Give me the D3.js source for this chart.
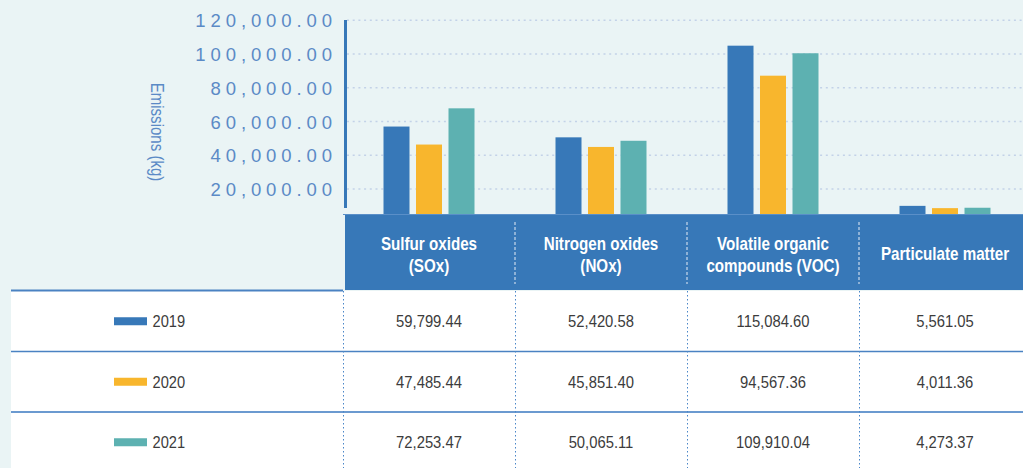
<!DOCTYPE html>
<html>
<head>
<meta charset="utf-8">
<script src="https://cdn.jsdelivr.net/npm/d3@7"></script>
<style>
    html, body { margin: 0; padding: 0; background: #eaf4f5; }
    svg { display: block; font-family: "Liberation Sans", Arial, sans-serif; }
</style>
</head>
<body>
<div id="chart"></div>
<script>
// emissions table-chart

// categories (header lines), years, values per year, axis ticks
const CATEGORIES = ['SOx', 'NOx', 'VOC', 'PM'];
const CATEGORY_LINES = [
    ['Sulfur oxides', '(SOx)'],
    ['Nitrogen oxides', '(NOx)'],
    ['Volatile organic', 'compounds (VOC)'],
    ['Particulate matter']
];
const YEARS = ['2019', '2020', '2021'];
const VALUES_2019 = [59799.44, 52420.58, 115084.60, 5561.05];
const VALUES_2020 = [47485.44, 45851.40, 94567.36, 4011.36];
const VALUES_2021 = [72253.47, 50065.11, 109910.04, 4273.37];
const Y_TICKS = [20000, 40000, 60000, 80000, 100000, 120000];
const AXIS_TITLE = 'Emissions (kg)';

(function () {
    'use strict';

    const W = 1023, H = 468;
    const COLORS = { '2019': '#3778b8', '2020': '#f8b62d', '2021': '#5db1b1' };
    const BLUE = '#3778b8';

    const cfg = {
        tableLeft: 343,
        tableRight: 1031,
        rowLeft: 11,
        plotTop: 20,
        plotBottom: 214,
        headerBottom: 290,
        rowHeight: 60.5
    };

    const series = YEARS.map(function (y, i) {
        return { year: y, values: [VALUES_2019, VALUES_2020, VALUES_2021][i] };
    });

    const fmt = d3.format(',.2f');

    // source font is a narrow sans; squeeze Liberation Sans to match
    function condense(sel, factor) {
        sel.each(function () {
            const len = this.getComputedTextLength();
            d3.select(this)
                .attr('textLength', len * factor)
                .attr('lengthAdjust', 'spacingAndGlyphs');
        });
    }

    const svg = d3.select('#chart').append('svg')
        .attr('width', W).attr('height', H);

    svg.append('rect').attr('width', W).attr('height', H).attr('fill', '#eaf4f5');

    // x: one column per category, shared by bars and table
    const x = d3.scaleBand().domain(CATEGORIES).range([cfg.tableLeft, cfg.tableRight]);
    const xInner = d3.scaleBand().domain(YEARS).range([-45.5, 45.5]).paddingInner(0.2);

    // the axis labels and the bars in the source don't share a scale, keep both
    const yAxis = d3.scaleLinear().domain([0, 120000]).range([222.75, 20.25]);
    const yBar = d3.scaleLinear().domain([0, 120000]).range([cfg.plotBottom, 38.5]);

    // gridlines
    svg.append('g').selectAll('line')
        .data(Y_TICKS).enter().append('line')
        .attr('x1', 347).attr('x2', W)
        .attr('y1', function (d) { return yAxis(d); })
        .attr('y2', function (d) { return yAxis(d); })
        .attr('stroke', '#c3d2e8').attr('stroke-width', 1.5)
        .attr('stroke-dasharray', '2,3.7');

    // tick labels (spaced out)
    const axisG = svg.append('g')
        .attr('transform', 'translate(332,0)')
        .call(d3.axisLeft(yAxis).tickValues(Y_TICKS).tickFormat(fmt).tickSize(0).tickPadding(0));
    axisG.select('.domain').remove();
    axisG.selectAll('text')
        .attr('fill', '#5b8ac6')
        .attr('dy', '0.36em')
        .style('font-size', '18.5px')
        .style('font-family', '"Liberation Sans", Arial, sans-serif')
        .each(function (d) {
            const len = this.getComputedTextLength();
            const n = fmt(d).length;
            d3.select(this)
                .attr('textLength', len + (n - 1) * 4.9)
                .attr('lengthAdjust', 'spacing');
        });

    // axis title
    svg.append('text')
        .attr('transform', 'translate(151,132) rotate(90)')
        .attr('text-anchor', 'middle')
        .attr('fill', '#5b8ac6')
        .style('font-size', '17.5px')
        .text(AXIS_TITLE)
        .call(condense, 0.86);

    // axis line
    svg.append('line')
        .attr('x1', 345.5).attr('x2', 345.5)
        .attr('y1', cfg.plotTop).attr('y2', 208)
        .attr('stroke', BLUE).attr('stroke-width', 3);

    // bars
    const groups = svg.append('g').selectAll('g')
        .data(series).enter().append('g')
        .attr('fill', function (d) { return COLORS[d.year]; });
    groups.selectAll('rect')
        .data(function (s) {
            return s.values.map(function (v, i) { return { year: s.year, cat: CATEGORIES[i], value: v }; });
        })
        .enter().append('rect')
        .attr('x', function (d) { return x(d.cat) + x.bandwidth() / 2 + xInner(d.year); })
        .attr('width', xInner.bandwidth())
        .attr('y', function (d) { return yBar(d.value); })
        .attr('height', function (d) { return yBar(0) - yBar(d.value); });

    // header band
    svg.append('rect')
        .attr('x', cfg.tableLeft + 2).attr('y', cfg.plotBottom)
        .attr('width', W - cfg.tableLeft).attr('height', cfg.headerBottom - cfg.plotBottom)
        .attr('fill', BLUE);
    svg.append('line')
        .attr('x1', cfg.tableLeft).attr('x2', W)
        .attr('y1', cfg.plotBottom + 0.5).attr('y2', cfg.plotBottom + 0.5)
        .attr('stroke', '#5a8fc8').attr('stroke-width', 1);

    // header dividers
    svg.append('g').selectAll('line')
        .data(CATEGORIES.slice(1)).enter().append('line')
        .attr('x1', function (d) { return x(d); })
        .attr('x2', function (d) { return x(d); })
        .attr('y1', 222).attr('y2', 284)
        .attr('stroke', '#c9d9ec').attr('stroke-width', 1.2)
        .attr('stroke-dasharray', '3,2');

    // header labels, one text per line
    const headLines = [];
    CATEGORY_LINES.forEach(function (lines, i) {
        lines.forEach(function (t, j) {
            headLines.push({ cat: CATEGORIES[i], text: t, line: j, count: lines.length });
        });
    });
    svg.append('g').selectAll('text')
        .data(headLines).enter().append('text')
        .attr('text-anchor', 'middle')
        .attr('fill', '#ffffff')
        .style('font-weight', 'bold')
        .style('font-size', '18.5px')
        .attr('x', function (d) { return x(d.cat) + x.bandwidth() / 2; })
        .attr('y', function (d) { return d.count > 1 ? 249.5 + d.line * 22.5 : 259.5; })
        .text(function (d) { return d.text; })
        .call(condense, 0.82);

    // table body
    const bodyTop = cfg.headerBottom + 1;
    svg.append('rect')
        .attr('x', cfg.rowLeft).attr('y', bodyTop)
        .attr('width', W - cfg.rowLeft).attr('height', H - bodyTop)
        .attr('fill', '#ffffff');

    // line under the header
    svg.append('line')
        .attr('x1', cfg.rowLeft).attr('x2', cfg.tableLeft)
        .attr('y1', cfg.headerBottom + 0.5).attr('y2', cfg.headerBottom + 0.5)
        .attr('stroke', '#4a82c2').attr('stroke-width', 2);

    // row separators
    svg.append('g').selectAll('line')
        .data(YEARS.slice(1)).enter().append('line')
        .attr('x1', cfg.rowLeft).attr('x2', W)
        .attr('y1', function (d, i) { return bodyTop + cfg.rowHeight * (i + 1); })
        .attr('y2', function (d, i) { return bodyTop + cfg.rowHeight * (i + 1); })
        .attr('stroke', function (d, i) { return i === 0 ? '#4a82c2' : '#6b9ad0'; })
        .attr('stroke-width', function (d, i) { return i === 0 ? 1.6 : 2.2; });

    // column dividers in rows
    svg.append('g').selectAll('line')
        .data(CATEGORIES).enter().append('line')
        .attr('x1', function (d) { return x(d) + 0.5; })
        .attr('x2', function (d) { return x(d) + 0.5; })
        .attr('y1', bodyTop).attr('y2', H)
        .attr('stroke', '#4a86c8').attr('stroke-width', 1)
        .attr('stroke-dasharray', '1.5,2.5');

    // rows
    const rows = svg.append('g').selectAll('g')
        .data(series).enter().append('g')
        .attr('transform', function (d, i) {
            return 'translate(0,' + (bodyTop + cfg.rowHeight * i + cfg.rowHeight / 2) + ')';
        });

    rows.append('rect')
        .attr('x', 114).attr('y', -4).attr('width', 33).attr('height', 8)
        .attr('fill', function (d) { return COLORS[d.year]; });
    rows.append('text')
        .attr('x', 152.5).attr('dy', '0.36em')
        .attr('fill', '#3c3c3c')
        .style('font-size', '17px')
        .text(function (d) { return d.year; })
        .call(condense, 0.86);

    rows.selectAll('text.val')
        .data(function (s) { return s.values; }).enter().append('text')
        .attr('class', 'val')
        .attr('x', function (d, i) { return x(CATEGORIES[i]) + x.bandwidth() / 2; })
        .attr('dy', '0.36em')
        .attr('text-anchor', 'middle')
        .attr('fill', '#3c3c3c')
        .style('font-size', '17px')
        .text(function (d) { return fmt(d); })
        .call(condense, 0.87);
})();
</script>
</body>
</html>
